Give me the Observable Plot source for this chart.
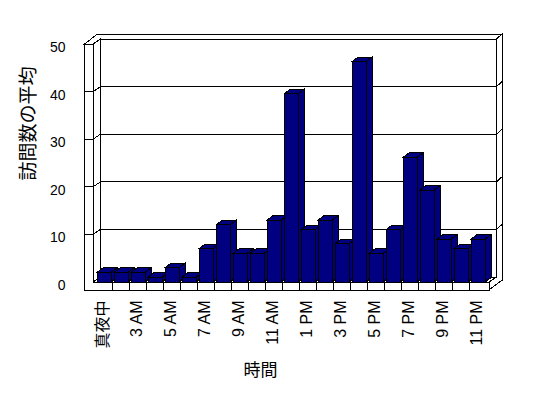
<!DOCTYPE html>
<html>
<head>
<meta charset="utf-8">
<script src="https://cdn.jsdelivr.net/npm/d3@7"></script>
<script src="https://cdn.jsdelivr.net/npm/@observablehq/plot@0.6"></script>
<style>
  body { margin: 0; background: #fff; }
  svg { display: block; }
</style>
</head>
<body>
<div id="chart"></div>
<script>
// ---- data ----
const hours = ["真夜中", "2 AM", "3 AM", "4 AM", "5 AM", "6 AM", "7 AM", "8 AM", "9 AM", "10 AM", "11 AM",
  "12 PM", "1 PM", "2 PM", "3 PM", "4 PM", "5 PM", "6 PM", "7 PM", "8 PM", "9 PM", "10 PM", "11 PM"];
const visits = [2, 2, 2, 1, 3, 1, 7, 12, 6, 6, 13, 39.5, 11, 13, 8, 46.3, 6, 11, 26.2, 19.3, 9, 7, 9];
const yTicks = [0, 10, 20, 30, 40, 50];
const xTickLabels = hours.filter((d, i) => i % 2 === 0);
const yTitle = "訪問数の平均";
const xTitle = "時間";

// ---- 3D styling constants (pixels) ----
const WALL = [7.5, -5];     // front plane -> back wall front face
const BOX = [13, -10];      // front plane -> back of box
const BARD = [6, -4.5];     // bar depth
const WALL_T = 8.5;         // left wall thickness
const FLOOR_T = 8;          // floor thickness
const NAVY = "#000080";

const data = hours.map((h, i) => ({hour: h, value: visits[i]}));

function bw(x) { return typeof x.bandwidth === "function" ? x.bandwidth() : x.bandwidth; }
function poly(g, pts, fill = "#fff") {
  g.append("path").attr("d", "M" + pts.map(p => p.join(",")).join("L") + "Z").attr("fill", fill);
}
function seg(g, x1, y1, x2, y2) {
  g.append("line").attr("x1", x1).attr("y1", y1).attr("x2", x2).attr("y2", y2);
}

function frameMark(index, scales, values, dims) {
  const {x, y} = scales;
  const xL = dims.marginLeft, xR = dims.width - dims.marginRight;
  const yMax = d3.max(yTicks);
  const y0 = y(0), yT = y(yMax), yB = y0 + FLOOR_T, oL = xL - WALL_T;
  const [wx, wy] = WALL, [bx, by] = BOX;
  const g = d3.create("svg:g").attr("stroke", "#000").attr("stroke-width", 1).attr("fill", "none");
  // back silhouette
  poly(g, [[oL + bx, yT + by], [xR + bx, yT + by], [xR + bx, yB + by], [oL + bx, yB + by]]);
  // back wall front face
  poly(g, [[xL + wx, yT + wy], [xR + wx, yT + wy], [xR + wx, y0 + wy], [xL + wx, y0 + wy]]);
  // right side face
  poly(g, [[xR + wx, yT + wy], [xR + bx, yT + by], [xR + bx, yB + by], [xR, yB], [xR, y0], [xR + wx, y0 + wy]]);
  // top face
  poly(g, [[oL, yT], [xL, yT], [xL + wx, yT + wy], [xR + wx, yT + wy], [xR + bx, yT + by], [oL + bx, yT + by]]);
  // left wall inner face
  poly(g, [[xL, yT], [xL + wx, yT + wy], [xL + wx, y0 + wy], [xL, y0]]);
  // floor top
  poly(g, [[xL, y0], [xR, y0], [xR + wx, y0 + wy], [xL + wx, y0 + wy]]);
  // front L face (left wall + floor)
  poly(g, [[oL, yT], [xL, yT], [xL, y0], [xR, y0], [xR, yB], [oL, yB]]);
  // gridlines
  for (const v of yTicks) {
    if (v <= 0 || v >= yMax) continue;
    const yv = y(v);
    seg(g, xL + wx, yv + wy, xR + wx, yv + wy);
    seg(g, xR + wx, yv + wy, xR + bx, yv + by);
    seg(g, xL, yv, xL + wx, yv + wy);
    seg(g, oL, yv, xL, yv);
  }
  // category boundary ticks on floor front
  const b = bw(x);
  for (let k = 1; k < hours.length; k++) {
    const xm = (x(hours[k - 1]) + b + x(hours[k])) / 2;
    seg(g, xm, y0, xm, yB);
  }
  return g.node();
}

function barDepthMark(index, scales) {
  const {x, y} = scales;
  const b = bw(x);
  const [dx, dy] = BARD;
  const g = d3.create("svg:g").attr("stroke", "#000").attr("stroke-width", 1);
  const yb = y(0);
  hours.forEach((h, i) => {
    const x0 = x(h), x1 = x0 + b, yv = y(visits[i]);
    poly(g, [[x1, yv], [x1 + dx, yv + dy], [x1 + dx, yb + dy], [x1, yb]], NAVY);
    poly(g, [[x0, yv], [x1, yv], [x1 + dx, yv + dy], [x0 + dx, yv + dy]], NAVY);
  });
  return g.node();
}

const chart = Plot.plot({
  width: 548,
  height: 398,
  marginLeft: 93,
  marginRight: 59,
  marginTop: 44,
  marginBottom: 116,
  style: {background: "#fff", fontFamily: "'Liberation Sans', 'Noto Sans CJK JP', sans-serif", overflow: "visible", shapeRendering: "crispEdges"},
  x: {type: "band", domain: hours, paddingInner: 0.18, paddingOuter: 0.1, axis: null},
  y: {domain: [0, 50], axis: null},
  marks: [
    frameMark,
    barDepthMark,
    Plot.barY(data, {x: "hour", y: "value", fill: NAVY, stroke: "#000", strokeWidth: 1}),
    Plot.text(yTicks, {y: d => d, text: d => String(d), frameAnchor: "left", dx: -28, dy: 3,
      textAnchor: "end", fontSize: 14, fill: "#000", ariaLabel: "ytick"}),
    Plot.text(xTickLabels, {x: d => d, y: () => 0, text: d => d, rotate: -90, textAnchor: "end",
      dx: -2, dy: 18, fontSize: 16, fill: "#000", ariaLabel: "xtick"}),
    Plot.text([yTitle], {frameAnchor: "left", text: d => d, rotate: -90, dx: -64.5, dy: 17,
      fontSize: 19, fontFamily: "'Noto Sans CJK JP', sans-serif", fill: "#000"}),
    Plot.text([xTitle], {frameAnchor: "bottom", text: d => d, dx: -31, dy: 93.5,
      fontSize: 17, fontFamily: "'Noto Sans CJK JP', sans-serif", fill: "#000"})
  ]
});

function squeeze(root, label, sx) {
  root.querySelectorAll(`g[aria-label="${label}"] text`).forEach(t => {
    if (/[\u3040-\u9fff]/.test(t.textContent)) return;
    const tr = t.getAttribute("transform") || "";
    const m = tr.match(/^\s*translate\(([^)]*)\)(.*)$/);
    if (m) {
      t.setAttribute("transform", `translate(${m[1]}) scale(${sx},1)${m[2]}`);
    } else {
      const x = +t.getAttribute("x") || 0, y = +t.getAttribute("y") || 0;
      t.removeAttribute("x"); t.removeAttribute("y");
      t.setAttribute("transform", `translate(${x},${y}) scale(${sx},1) ${tr}`);
    }
  });
}
squeeze(chart, "ytick", 0.7);
squeeze(chart, "xtick", 0.72);

document.getElementById("chart").append(chart);
</script>
</body>
</html>
